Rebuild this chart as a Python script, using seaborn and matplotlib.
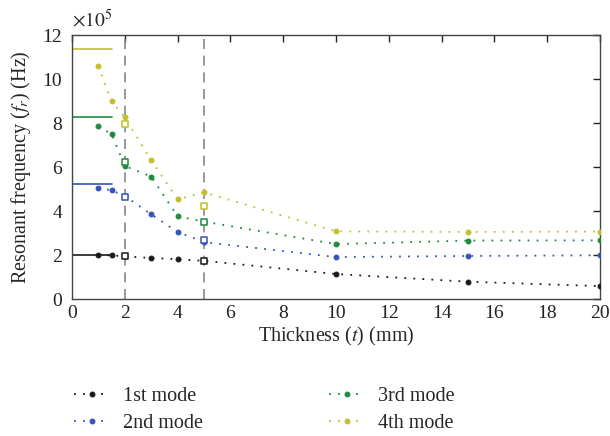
import numpy as np
import pandas as pd
import matplotlib
matplotlib.use("Agg")
import matplotlib.pyplot as plt
import seaborn as sns

thickness = [1, 1.5, 2, 3, 4, 5, 10, 15, 20]
mode1 = [2.00, 2.00, 1.95, 1.88, 1.82, 1.75, 1.15, 0.80, 0.60]
mode2 = [5.08, 4.95, 4.70, 3.86, 3.06, 2.60, 1.92, 1.97, 2.00]
mode3 = [7.86, 7.51, 6.06, 5.58, 3.77, 3.53, 2.51, 2.67, 2.68]
mode4 = [10.60, 9.00, 8.27, 6.32, 4.55, 4.86, 3.09, 3.06, 3.08]

sq_x = [2, 5]
sq1 = [1.95, 1.74]
sq2 = [4.67, 2.68]
sq3 = [6.24, 3.53]
sq4 = [7.97, 4.26]

limits = [2.00, 5.23, 8.29, 11.36]
limit_x = [0, 1.5]
vlines_x = [2, 5]

labels = ["1st mode", "2nd mode", "3rd mode", "4th mode"]
colors = ["#1a1a1a", "#3553b8", "#1e8a3e", "#c2bf2c"]

sns.set_style("white")
plt.rcParams["font.family"] = ["Liberation Serif", "DejaVu Serif"]
plt.rcParams["mathtext.fontset"] = "stix"

fig = plt.figure(figsize=(6.1, 4.36), dpi=100)
ax = fig.add_axes([0.118, 0.3135, 0.8656, 0.6055])

for xv in vlines_x:
    ax.axvline(xv, color="#888888", linestyle=(0, (6, 4)), linewidth=1.2, zorder=1)

series = [mode1, mode2, mode3, mode4]
squares = [sq1, sq2, sq3, sq4]
for lab, col, ys, sq, lim in zip(labels, colors, series, squares, limits):
    ax.plot(limit_x, [lim, lim], color=col, linewidth=1.2, zorder=2)
    sns.lineplot(x=thickness, y=ys, ax=ax, color=col, linestyle=(0, (1, 4)),
                 linewidth=1.3, marker="o", markersize=3.5, markeredgecolor=col,
                 label=lab, zorder=3)
    sns.scatterplot(x=sq_x, y=sq, ax=ax, marker="s", s=16, facecolor="white",
                    edgecolor=col, linewidth=1.1, zorder=4, legend=False)

ax.set_xlim(0, 20)
ax.set_ylim(0, 12)
ax.set_xticks(np.arange(0, 21, 2))
ax.set_yticks(np.arange(0, 13, 2))
for s in ax.spines.values():
    s.set_visible(True)
    s.set_color("#444444")
    s.set_linewidth(1.0)
ax.tick_params(direction="in", length=5, width=1, top=True, right=True,
               labelsize=14, colors="#222222")
ax.tick_params(axis="x", pad=4)
ax.tick_params(axis="y", pad=7)
ax.set_xlabel("Thickness ($t$) (mm)", fontsize=14.5, labelpad=2)
ax.set_ylabel("Resonant frequency ($f_r$) (Hz)", fontsize=14.5, labelpad=7)
ax.text(0.0, 1.015, r"$\times10^5$", transform=ax.transAxes, fontsize=14,
        ha="left", va="bottom")

h, l = ax.get_legend_handles_labels()
ax.legend_.remove()
fig.legend(h, l, ncol=2, loc="upper left", bbox_to_anchor=(0.092, 0.155),
           frameon=False, fontsize=14.5, columnspacing=6.3, handlelength=1.75,
           labelspacing=0.4, handletextpad=0.65)

fig.savefig("out.png", dpi=100)
